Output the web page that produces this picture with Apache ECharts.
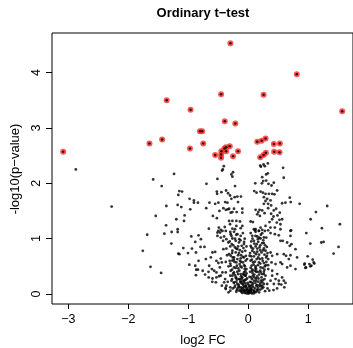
<!DOCTYPE html>
<html><head><meta charset="utf-8">
<script src="https://cdn.jsdelivr.net/npm/echarts@6/dist/echarts.min.js"></script>
<style>html,body{margin:0;padding:0;background:#fff}#c{width:353px;height:348px}</style>
</head><body><div id="c"></div>
<script>
const chartTitle = 'Ordinary t\u2212test';
const xTitle = 'log2 FC';
const yTitle = '-log10(p\u2212value)';
const xTicks = [-3, -2, -1, 0, 1];
const yTicks = [0, 1, 2, 3, 4];

// significant points: [log2 FC, -log10 p]
const sigPoints = [
 [-0.298,4.53],[0.808,3.97],[-0.453,3.61],[0.255,3.60],[-1.36,3.50],[1.565,3.30],[-0.962,3.33],
 [-0.392,3.12],[-0.216,3.08],[-0.806,2.94],[-0.768,2.94],[-1.436,2.79],[-1.647,2.72],[-0.751,2.72],
 [-0.972,2.63],[-3.085,2.57],[0.288,2.81],[0.222,2.77],[0.149,2.75],[0.426,2.71],[0.526,2.72],
 [0.431,2.57],[0.520,2.56],[0.293,2.55],[0.255,2.51],[0.199,2.47],[-0.309,2.67],[-0.370,2.65],
 [-0.398,2.63],[-0.448,2.58],[-0.370,2.58],[-0.453,2.52],[-0.453,2.46],[-0.552,2.51],[-0.254,2.49],
 [-0.171,2.58]
];

// far-left / left points
const leftPoints = [
 [-2.874,2.25],[-2.277,1.58],[-1.237,2.17],[-1.585,2.07],[-1.443,1.95],[-1.149,1.86],[-1.104,1.85],[-1.166,1.79],
 [-0.978,1.72],[-0.906,1.69],[-0.906,1.65],[-0.839,1.65],[-1.365,1.59],[-1.177,1.61],[-1.116,1.57],[-0.967,1.53],
 [-1.061,1.42],[-1.542,1.41],[-1.199,1.35],[-1.071,1.32],[-1.370,1.24],[-1.177,1.17],[-1.177,1.12],[-1.277,1.12],
 [-1.398,1.09],[-1.685,1.07],[-0.950,1.04],[-0.829,1.06],[-0.884,0.94],[-1.282,0.91],[-1.758,0.78],[-1.083,0.83],
 [-0.939,0.82],[-1.166,0.73],[-1.149,0.72],[-1.005,0.74],[-0.872,0.75],[-1.630,0.49],[-1.453,0.38],[-0.983,0.53],
 [-0.884,0.51],[-0.867,0.44],[-0.839,0.44],[-0.872,0.34],[-0.829,0.60],[-0.790,0.99],[-0.796,0.85],[-0.730,0.85]
];

// mid-left points
const midLeftPoints = [
 [-0.697,1.99],[-0.514,2.08],[-0.408,2.31],[-0.425,2.25],[-0.436,2.23],[-0.524,1.85],[-0.448,1.84],[-0.370,1.87],
 [-0.337,1.82],[-0.647,1.65],[-0.519,1.81],[-0.552,1.63],[-0.498,1.65],[-0.386,1.66],[-0.348,1.65],[-0.701,1.55],
 [-0.415,1.55],[-0.375,1.52],[-0.342,1.53],[-0.481,1.50],[-0.590,1.41],[-0.524,1.37],[-0.657,1.18],[-0.491,1.20],
 [-0.458,1.16],[-0.498,1.14],[-0.431,1.14],[-0.514,1.11],[-0.469,1.11],[-0.392,1.21],[-0.375,1.14],[-0.514,1.05],
 [-0.458,1.02],[-0.403,1.04],[-0.365,0.99],[-0.332,0.93],[-0.420,0.96],[-0.707,0.63],[-0.624,0.66],[-0.597,0.75],
 [-0.552,0.76],[-0.531,0.60],[-0.652,0.51],[-0.607,0.45],[-0.663,0.40],[-0.569,0.42],[-0.474,0.48],[-0.441,0.57],
 [-0.375,0.58],[-0.353,0.70],[-0.365,0.82],[-0.415,0.81],[-0.458,0.64],[-0.498,0.56],[-0.531,0.39],[-0.431,0.39],
 [-0.375,0.39],[-0.458,0.33],[-0.597,0.28],[-0.531,0.30],[-0.486,0.32],[-0.386,0.27],[-0.403,0.21],[-0.365,0.15],
 [-0.375,0.09],[-0.342,0.22],[-0.54,0.21],[-0.44,0.15],[-0.38,0.11],[-0.30,0.12],[-0.60,0.22],[-0.66,0.30],
 [-0.72,0.35],[-0.76,0.42]
];

// upper centre points
const upperPoints = [
 [0.199,2.32],[0.254,2.34],[0.326,2.36],[0.210,2.30],[0.276,2.31],[-0.254,2.20],[-0.282,2.16],[-0.265,2.12],
 [0.580,2.28],[0.591,2.10],[0.232,2.11],[0.298,2.16],[0.326,2.18],[0.298,2.05],[0.116,2.00],[0.227,2.00],
 [0.249,2.04],[0.337,1.99],[0.387,1.96],[0.425,2.01],[-0.221,1.95],[0.099,1.86],[0.138,1.83],[0.204,1.85],
 [0.243,1.83],[0.287,1.81],[0.343,1.81],[0.398,1.81],[0.481,1.87],[0.436,1.80],[-0.304,1.78],[-0.227,1.75],
 [-0.282,1.72],[-0.182,1.76],[-0.122,1.76],[0.260,1.75],[0.315,1.72],[0.370,1.69],[0.287,1.68],[0.331,1.63],
 [0.260,1.63],[0.691,1.74],[0.707,1.66],[0.619,1.65],[0.564,1.64],[0.856,1.63],[1.315,1.59],[-0.171,1.66],
 [1.127,1.48],[1.039,1.35],[1.227,1.19],[0.967,1.10],[0.713,1.15],
 [0.381,1.60],[0.464,1.54],[0.331,1.55],[0.425,1.51],[0.381,1.45],[0.525,1.47],[0.486,1.42],[0.420,1.40],
 [-0.320,1.54],[-0.238,1.54],[-0.265,1.48],[-0.193,1.48],[-0.099,1.54],[-0.099,1.47],[-0.293,1.47],[0.122,1.52],
 [0.166,1.48],[0.188,1.52],[0.232,1.51],[0.149,1.44],[0.193,1.41],[0.271,1.46],[0.519,1.34],[0.564,1.35],
 [0.475,1.29],[0.536,1.26],[0.442,1.20],[0.536,1.17],[-0.320,1.32],[-0.265,1.32],[-0.199,1.32],[-0.138,1.31],
 [-0.304,1.26],[-0.199,1.23],[-0.099,1.23],[-0.265,1.18],[-0.221,1.17],[-0.127,1.19],[0.039,1.31],[0.077,1.30],
 [0.122,1.17],[0.177,1.14],[0.232,1.16],[0.276,1.14],[0.331,1.15],[0.110,1.15],[0.204,1.20],[0.287,1.23],
 [0.370,1.20],[0.398,1.35],[0.354,1.30]
];

// right points
const rightPoints = [
 [0.371,1.10],[0.443,1.08],[0.509,1.06],[0.703,1.14],[0.703,1.05],[1.034,0.91],[1.217,0.93],[1.255,0.94],
 [0.537,0.96],[0.575,0.96],[0.647,0.93],[0.719,0.90],[0.691,0.87],[0.786,0.81],[0.481,0.72],[0.592,0.72],
 [0.630,0.69],[0.703,0.70],[0.675,0.63],[0.537,0.57],[0.564,0.54],[0.703,0.51],[0.647,0.48],[0.786,0.45],
 [0.813,0.66],[0.990,0.68],[1.073,0.62],[1.090,0.57],[1.018,0.54],[0.940,0.55],[0.962,0.48],[1.034,0.50],
 [0.371,0.75],[0.398,0.69],[0.332,0.63],[0.388,0.57],[0.454,0.54],[0.332,0.45],[0.398,0.42],[0.481,0.36],
 [0.398,0.33],[0.454,0.27],[0.509,0.24],[0.564,0.30],[0.592,0.24],[0.371,0.24],[0.315,0.18],[0.232,0.15],
 [0.426,0.18],[0.509,0.18],[1.526,1.26],[1.504,0.85],[1.421,0.73],[0.935,0.53],[1.101,0.55],[1.051,0.51],
 [0.952,0.47],[0.55,0.17],[0.60,0.12],[0.48,0.10],[0.42,0.07],[0.35,0.06],[0.62,0.20]
];

// dense core points
const corePoints = [
 [-0.293,1.081],[-0.238,1.123],[-0.182,1.081],[-0.127,1.051],[-0.265,1.003],[-0.210,0.961],[-0.155,0.931],
 [-0.276,0.901],[-0.221,0.841],[-0.110,0.871],[-0.182,0.811],[-0.072,0.901],[-0.265,0.781],[-0.210,0.751],
 [-0.155,0.739],[-0.099,0.763],[-0.293,0.691],[-0.238,0.661],[-0.182,0.631],[-0.127,0.643],[-0.072,0.661],
 [-0.265,0.601],[-0.199,0.571],[-0.144,0.541],[-0.088,0.571],[-0.044,0.601],[-0.293,0.511],[-0.238,0.480],
 [-0.166,0.462],[-0.110,0.480],[-0.055,0.498],[-0.293,0.420],[-0.238,0.390],[-0.182,0.402],[-0.127,0.360],
 [-0.072,0.390],[-0.265,0.330],[-0.210,0.300],[-0.155,0.270],[-0.099,0.300],[-0.044,0.330],[-0.238,0.210],
 [-0.182,0.180],[-0.127,0.210],[-0.072,0.222],[-0.155,0.120],[-0.099,0.102],[-0.044,0.138],[-0.017,0.060],
 [-0.072,0.042],[-0.110,0.060],
 [0.094,1.171],[0.122,1.123],[0.177,1.141],[0.232,1.099],[0.066,1.051],[0.149,1.039],[0.204,1.003],
 [0.260,1.021],[0.094,0.961],[0.166,0.943],[0.232,0.919],[0.039,0.871],[0.122,0.859],[0.188,0.841],
 [0.260,0.823],[0.066,0.781],[0.149,0.763],[0.221,0.751],[0.287,0.781],[0.022,0.691],[0.094,0.679],
 [0.166,0.661],[0.232,0.643],[0.298,0.661],[0.039,0.601],[0.110,0.583],[0.177,0.571],[0.260,0.559],
 [0.055,0.511],[0.122,0.498],[0.204,0.480],[0.276,0.498],[0.066,0.420],[0.133,0.402],[0.204,0.390],
 [0.260,0.402],[0.077,0.330],[0.149,0.318],[0.221,0.300],[0.287,0.330],[0.094,0.240],[0.166,0.222],
 [0.232,0.210],[0.066,0.162],[0.133,0.150],[0.204,0.138],[0.039,0.090],[0.094,0.060],[0.011,0.030],
 [0.166,0.078],
 [-0.03,0.01],[0.0,0.005],[0.02,0.02],[-0.01,0.03],[0.03,0.05],[-0.05,0.05],[0.05,0.03],[-0.08,0.08],
 [0.07,0.07],[-0.02,0.09],[0.01,0.12],[-0.04,0.15],[0.04,0.14],[-0.09,0.18],[0.08,0.19],[0.0,0.17],
 [-0.06,0.25],[0.06,0.27],[-0.12,0.12],[0.11,0.10],[-0.15,0.06],[0.14,0.05],[-0.10,0.02],[0.09,0.01],
 [0.12,0.20],[-0.13,0.23],[0.03,0.22],[-0.02,0.28],[0.10,0.35],[-0.08,0.36],[0.18,0.03],[-0.20,0.04],
 [0.20,0.08],[-0.18,0.10],[0.16,0.12],[-0.22,0.15],[0.25,0.12],[-0.26,0.10],[0.28,0.05],[-0.30,0.06],
 [0.24,0.25],[-0.27,0.27],[0.03,0.40],[-0.03,0.45],[0.13,0.45],[-0.14,0.60],[-0.06,0.02],[0.06,0.01],
 [-0.04,0.07],[0.02,0.08],[-0.07,0.12],[0.05,0.10],[-0.01,0.20],[0.02,0.31],[-0.05,0.33],[0.07,0.38],
 [-0.11,0.28],[0.13,0.28],[-0.16,0.17],[0.19,0.16],[-0.20,0.22],[0.21,0.24],[-0.24,0.20],[0.26,0.18],
 [-0.33,0.03],[0.32,0.10],[-0.12,0.04],[0.12,0.03],[-0.01,0.06],[0.01,0.045],
 [-0.31,0.95],[-0.25,0.88],[-0.17,0.86],[-0.05,0.78],[-0.32,0.72],[-0.12,0.70],[-0.23,0.58],[-0.07,0.52],
 [-0.31,0.60],[-0.19,0.51],[-0.27,0.44],[-0.15,0.42],[-0.05,0.41],[-0.22,0.34],[-0.12,0.32],[-0.30,0.33],
 [-0.19,0.26],[-0.09,0.24],[-0.15,0.99],[-0.06,1.00],[-0.30,1.12],[-0.20,1.07],[-0.09,1.10],[-0.33,0.50],
 [-0.26,0.66],[-0.04,0.69],
 [0.05,0.95],[0.14,0.90],[0.26,0.92],[0.31,0.85],[0.08,0.82],[0.20,0.79],[0.03,0.74],[0.13,0.72],
 [0.27,0.71],[0.06,0.62],[0.19,0.63],[0.30,0.58],[0.09,0.53],[0.16,0.52],[0.24,0.47],[0.04,0.47],
 [0.11,0.42],[0.18,0.35],[0.26,0.36],[0.05,0.30],[0.20,0.42],[0.12,1.05],[0.21,1.07],[0.30,1.02],
 [0.04,1.10],[0.16,0.99],[0.32,0.74],[0.33,0.52],
 [-0.28,1.05],[-0.22,1.00],[-0.13,0.97],[-0.07,0.94],[-0.30,0.86],[-0.20,0.82],[-0.14,0.79],[-0.08,0.83],
 [-0.03,0.86],[-0.27,0.74],[-0.17,0.70],[-0.09,0.67],[-0.02,0.63],[-0.24,0.62],[-0.12,0.58],[-0.30,0.55],
 [-0.21,0.47],[-0.13,0.50],[-0.06,0.45],[-0.25,0.37],[-0.17,0.36],[-0.08,0.35],[-0.03,0.37],[-0.28,0.24],
 [-0.20,0.29],[-0.14,0.27],[-0.04,0.26],[-0.23,0.12],[-0.16,0.14],[-0.08,0.15],[-0.11,0.19],[-0.05,0.19],
 [-0.19,0.07],[-0.13,0.08],[-0.07,0.06],[-0.03,0.11],
 [0.07,1.00],[0.18,1.02],[0.25,0.97],[0.10,0.91],[0.20,0.88],[0.28,0.88],[0.05,0.84],[0.15,0.82],
 [0.25,0.79],[0.10,0.75],[0.18,0.71],[0.31,0.69],[0.05,0.68],[0.14,0.63],[0.24,0.60],[0.08,0.57],
 [0.20,0.55],[0.29,0.52],[0.12,0.47],[0.27,0.44],[0.07,0.44],[0.16,0.40],[0.23,0.36],[0.10,0.30],
 [0.17,0.28],[0.27,0.27],[0.05,0.21],[0.13,0.24],[0.20,0.19],[0.08,0.13],[0.15,0.16],[0.23,0.10],
 [0.04,0.06],[0.10,0.04],[0.15,0.08],[0.02,0.15]
];

const otherPoints = [].concat(leftPoints, midLeftPoints, upperPoints, rightPoints, corePoints);

const FONT = 'Liberation Sans, Arial, Helvetica, sans-serif';
const fmt = v => String(v).replace('-', '\u2212');

const chart = echarts.init(document.getElementById('c'), null, {renderer: 'canvas'});
chart.setOption({
  animation: false,
  backgroundColor: '#fff',
  grid: {left: 52, top: 33, right: -2, bottom: 44, show: true, borderColor: '#000', borderWidth: 1, containLabel: false},
  xAxis: {
    type: 'value', min: -3.271, max: 1.745,
    axisLine: {show: false, onZero: false},
    splitLine: {show: false},
    axisTick: {show: true, customValues: xTicks, length: 5, lineStyle: {color: '#000', width: 1}},
    axisLabel: {customValues: xTicks, formatter: fmt, color: '#000', fontSize: 12.5, fontFamily: FONT, margin: 9}
  },
  yAxis: {
    type: 'value', min: -0.181, max: 4.716,
    axisLine: {show: false, onZero: false},
    splitLine: {show: false},
    axisTick: {show: true, customValues: yTicks, length: 6, lineStyle: {color: '#000', width: 1}},
    axisLabel: {customValues: yTicks, formatter: fmt, color: '#000', fontSize: 12.5, fontFamily: FONT, rotate: 90, margin: 9}
  },
  graphic: [
    {type: 'text', x: 203, y: 13, style: {text: chartTitle, font: 'bold 13px ' + FONT, fill: '#000', textAlign: 'center', textVerticalAlign: 'middle', align: 'center', verticalAlign: 'middle'}},
    {type: 'text', x: 203, y: 340, style: {text: xTitle, font: '13px ' + FONT, fill: '#000', textAlign: 'center', textVerticalAlign: 'middle', align: 'center', verticalAlign: 'middle'}},
    {type: 'text', x: 15, y: 169, rotation: Math.PI / 2, style: {text: yTitle, font: '13px ' + FONT, fill: '#000', textAlign: 'center', textVerticalAlign: 'middle', align: 'center', verticalAlign: 'middle'}}
  ],
  series: [
    {type: 'scatter', data: sigPoints, symbol: 'circle', symbolSize: 6, itemStyle: {color: '#ff2a2a'}, z: 2, silent: true},
    {type: 'scatter', data: otherPoints, symbol: 'circle', symbolSize: 2.8, itemStyle: {color: '#000'}, z: 3, silent: true},
    {type: 'scatter', data: sigPoints, symbol: 'circle', symbolSize: 2.6, itemStyle: {color: '#000'}, z: 4, silent: true}
  ]
});
</script>
</body></html>
